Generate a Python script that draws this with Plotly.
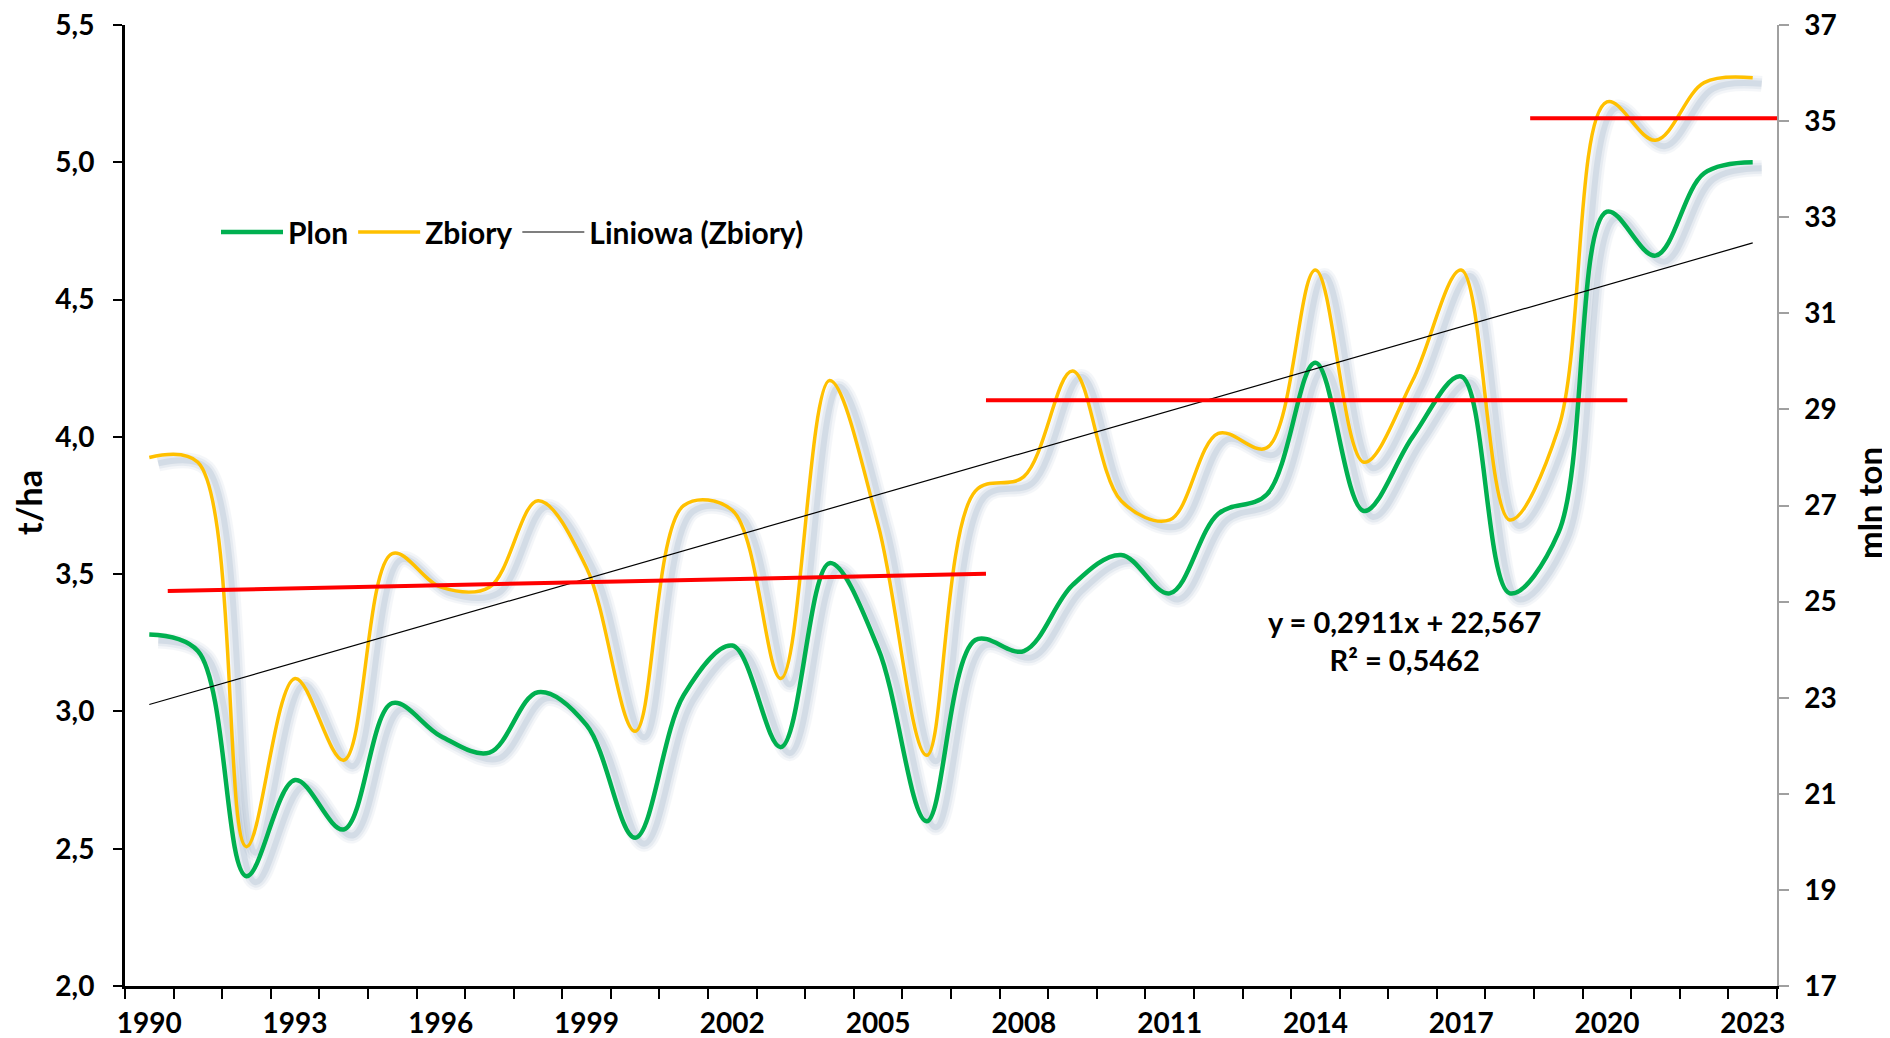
import plotly.graph_objects as go

# ---------------- data ----------------
years = list(range(1990, 2024))
plon = [3.28, 3.22, 2.40, 2.75, 2.57, 3.03, 2.91, 2.85, 3.07, 2.95,
        2.54, 3.06, 3.24, 2.87, 3.54, 3.23, 2.60, 3.26, 3.22, 3.46,
        3.57, 3.43, 3.72, 3.79, 4.27, 3.73, 4.00, 4.22, 3.43, 3.65,
        4.82, 4.66, 4.96, 5.00]
zbiory = [28.0, 27.9, 19.9, 23.4, 21.7, 26.0, 25.3, 25.3, 27.1, 25.7,
          22.3, 27.0, 26.9, 23.4, 29.6, 26.6, 21.8, 27.3, 27.6, 29.8,
          27.1, 26.7, 28.5, 28.2, 31.9, 27.9, 29.6, 31.9, 26.7, 28.6,
          35.4, 34.6, 35.8, 35.9]

# linear trend of Zbiory as printed on the chart (x = 1..34)
trend_slope = 0.2911
trend_intercept = 22.567
trend_label = "y = 0,2911x + 22,567<br>R² = 0,5462"

# hand-drawn average segments (years, mln t)
avg1_x = [1990.38, 2007.22]
avg1_y = [25.22, 25.58]
avg2_x = [2007.22, 2020.42]
avg2_y = [29.19, 29.19]
avg3_x = [2018.42, 2023.5]
avg3_y = [35.06, 35.06]

left_ticks = [2.0, 2.5, 3.0, 3.5, 4.0, 4.5, 5.0, 5.5]
right_ticks = list(range(17, 38, 2))
label_years = years[::3]

# ---------------- style ----------------
GREEN = "#00B050"
ORANGE = "#FFC000"
RED = "#FF0000"
FONT = "Lato"

# the page adds an 8px body margin, so the figure is drawn 8px smaller/offset
OFF = 8
W, H = 1890 - OFF, 1038 - OFF
L, T = 125 - OFF, 25 - OFF
R = W - (1777 - OFF)
B = H - (986 - OFF)
plot_w = W - L - R
plot_h = H - T - B


def px_x(page_x):
    return (page_x - OFF - L) / plot_w


def px_y(page_y):
    return ((H - B) - (page_y - OFF)) / plot_h


x_rng = [years[0] - 0.5, years[-1] + 0.5]
yl_rng = [2.0, 5.5]
yr_rng = [17, 37]

# shadow offsets in pixels (right, down)
sdx, sdy = 9, 6
px_per_year = plot_w / (x_rng[1] - x_rng[0])
sx_rng = [x_rng[0] - sdx / px_per_year, x_rng[1] - sdx / px_per_year]
syl = sdy * (yl_rng[1] - yl_rng[0]) / plot_h
syr = sdy * (yr_rng[1] - yr_rng[0]) / plot_h
syl_rng = [yl_rng[0] + syl, yl_rng[1] + syl]
syr_rng = [yr_rng[0] + syr, yr_rng[1] + syr]

fig = go.Figure()

SHADOW = "rgb(120,145,175)"
shadow_layers = [(16, 0.07), (11, 0.10), (6, 0.16)]
for w, op in shadow_layers:
    fig.add_trace(go.Scatter(x=years, y=plon, mode="lines",
                             line=dict(color=SHADOW, width=w, shape="spline", smoothing=1),
                             opacity=op, showlegend=False, hoverinfo="skip",
                             xaxis="x", yaxis="y"))
for w, op in shadow_layers:
    fig.add_trace(go.Scatter(x=years, y=zbiory, mode="lines",
                             line=dict(color=SHADOW, width=w, shape="spline", smoothing=1),
                             opacity=op, showlegend=False, hoverinfo="skip",
                             xaxis="x", yaxis="y2"))

fig.add_trace(go.Scatter(x=years, y=plon, mode="lines", name="Plon",
                         line=dict(color=GREEN, width=4.5, shape="spline", smoothing=1),
                         xaxis="x2", yaxis="y3"))
fig.add_trace(go.Scatter(x=years, y=zbiory, mode="lines", name="Zbiory",
                         line=dict(color=ORANGE, width=3.5, shape="spline", smoothing=1),
                         xaxis="x2", yaxis="y4"))

trend_x = [years[0], years[-1]]
trend_y = [trend_intercept + trend_slope * (years.index(v) + 1) for v in trend_x]
fig.add_trace(go.Scatter(x=trend_x, y=trend_y, mode="lines", name="Liniowa (Zbiory)",
                         line=dict(color="black", width=1.2),
                         xaxis="x2", yaxis="y4"))

for ax, ay in [(avg1_x, avg1_y), (avg2_x, avg2_y), (avg3_x, avg3_y)]:
    fig.add_trace(go.Scatter(x=ax, y=ay, mode="lines", showlegend=False,
                             line=dict(color=RED, width=4), hoverinfo="skip",
                             xaxis="x2", yaxis="y4"))

bounds = [y - 0.5 for y in years] + [years[-1] + 0.5]
tick_font = dict(size=28, family=FONT, weight="bold", color="black")

fig.update_layout(
    template="none",
    width=W, height=H,
    margin=dict(l=L, r=R, t=T, b=B, pad=0),
    paper_bgcolor="white", plot_bgcolor="white",
    separators=", ",
    font=dict(family=FONT, size=27, color="black", weight="bold"),
    showlegend=True,
    legend=dict(orientation="h", x=px_x(216), y=px_y(232),
                xanchor="left", yanchor="middle",
                bgcolor="rgba(0,0,0,0)", borderwidth=0,
                font=dict(size=30, family=FONT, weight="bold", color="black"),
                traceorder="normal", itemwidth=62),
    xaxis=dict(range=sx_rng, visible=False, fixedrange=True, automargin=False),
    yaxis=dict(range=syl_rng, visible=False, automargin=False),
    yaxis2=dict(range=syr_rng, visible=False, overlaying="y", automargin=False),
    xaxis2=dict(range=x_rng, overlaying="x", anchor="y3", side="bottom", automargin=False,
                tickmode="array", tickvals=label_years, ticktext=[str(v) for v in label_years],
                ticks="outside", ticklen=10, tickcolor="rgba(0,0,0,0)",
                minor=dict(tickmode="array", tickvals=bounds, ticks="outside",
                           ticklen=10, tickwidth=2, tickcolor="black", showgrid=False),
                showline=True, linecolor="black", linewidth=3,
                showgrid=False, zeroline=False, ticklabelstandoff=0,
                ticklabeloverflow="allow", tickfont=tick_font),
    yaxis3=dict(range=yl_rng, overlaying="y", anchor="x2", side="left", automargin=False,
                tickmode="array", tickvals=left_ticks, tickformat=".1f",
                ticks="outside", ticklen=9, tickwidth=2, tickcolor="black",
                showline=True, linecolor="black", linewidth=3,
                showgrid=False, zeroline=False, ticklabelstandoff=13,
                ticklabeloverflow="allow", tickfont=tick_font),
    yaxis4=dict(range=yr_rng, overlaying="y", anchor="x2", side="right", automargin=False,
                tickmode="array", tickvals=right_ticks,
                ticks="outside", ticklen=10, tickwidth=1.5, tickcolor="#a0a0a0",
                showline=True, linecolor="#a0a0a0", linewidth=1.5,
                showgrid=False, zeroline=False, ticklabelstandoff=10,
                ticklabeloverflow="allow", tickfont=tick_font),
    annotations=[
        dict(text=trend_label, xref="paper", yref="paper", x=px_x(1404),
             y=px_y(640),
             showarrow=False, align="center", xanchor="center", yanchor="middle",
             font=dict(size=29, family=FONT, weight="bold", color="black")),
        dict(text="t/ha", xref="paper", yref="paper", x=px_x(28), y=px_y(503),
             textangle=-90, showarrow=False, xanchor="center", yanchor="middle",
             font=dict(size=34, family=FONT, weight="bold", color="black")),
        dict(text="mln ton", xref="paper", yref="paper", x=px_x(1869), y=px_y(503),
             textangle=-90, showarrow=False, xanchor="center", yanchor="middle",
             font=dict(size=33, family=FONT, weight="bold", color="black")),
    ],
)

fig.write_html("out.html")
